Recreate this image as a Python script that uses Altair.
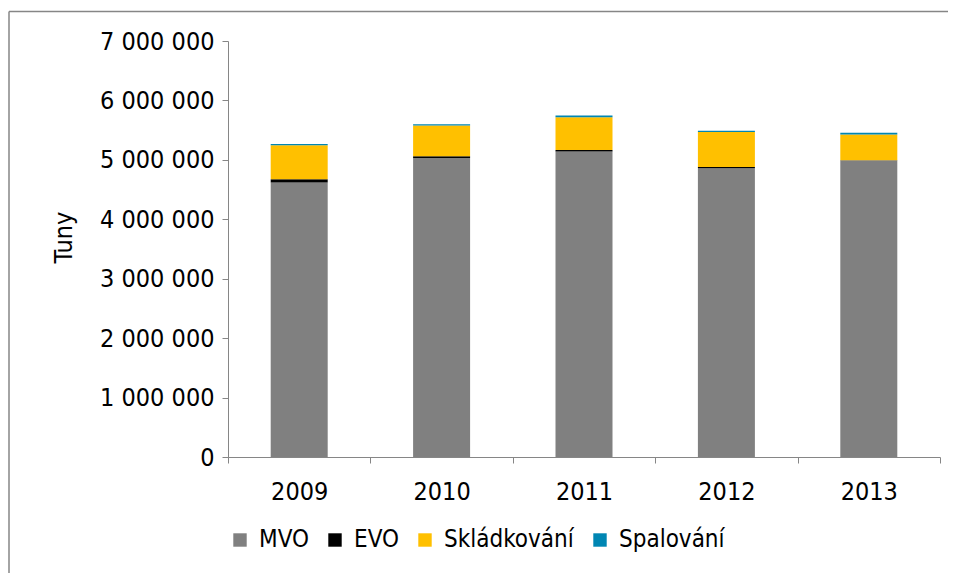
import altair as alt
import pandas as pd

years = ["2009", "2010", "2011", "2012", "2013"]
series = ["MVO", "EVO", "Skládkování", "Spalování"]
colors = ["#808080", "#000000", "#FFC000", "#0086B3"]
mvo = [4620000, 5030000, 5140000, 4860000, 4990000]
evo = [55000, 30000, 25000, 20000, 5000]
skladkovani = [570000, 520000, 550000, 590000, 430000]
spalovani = [20000, 20000, 30000, 20000, 30000]
y_ticks = [0, 1000000, 2000000, 3000000, 4000000, 5000000, 6000000, 7000000]

rows = []
for i, y in enumerate(years):
    for k, (name, vals) in enumerate(zip(series, [mvo, evo, skladkovani, spalovani])):
        rows.append({"rok": y, "serie": name, "hodnota": vals[i], "poradi": k})
df = pd.DataFrame(rows)

FONT = "DejaVu Sans Condensed, DejaVu Sans"
GREY = "#868686"

bars = alt.Chart(df).mark_bar(size=57).encode(
    x=alt.X("rok:N", sort=years,
            scale=alt.Scale(paddingInner=0, paddingOuter=0),
            axis=alt.Axis(title=None, labelAngle=0, tickBand="extent",
                          tickSize=6, labelPadding=16, domainColor=GREY,
                          tickColor=GREY, labelFontSize=25, labelFont=FONT,
                          labelColor="#000000", grid=False)),
    y=alt.Y("sum(hodnota):Q", stack="zero",
            scale=alt.Scale(domain=[0, 7000000], nice=False),
            axis=alt.Axis(title="Tuny", values=y_ticks, tickSize=6,
                          labelPadding=8, domainColor=GREY, tickColor=GREY,
                          labelFontSize=25, labelFont=FONT, labelColor="#000000",
                          labelExpr="replace(replace(format(datum.value, ','), ',', ' '), ',', ' ')",
                          grid=False, titleFontSize=25, titleFont=FONT,
                          titleFontWeight="normal", titleColor="#000000",
                          titleX=-165, titleY=196, titleAngle=-90,
                          titleAlign="center", titleBaseline="middle")),
    color=alt.Color("serie:N",
                    scale=alt.Scale(domain=series, range=colors),
                    legend=alt.Legend(title=None, orient="none", direction="horizontal",
                                      legendX=0, legendY=487, symbolType="square",
                                      symbolSize=180, symbolStrokeWidth=0,
                                      labelFontSize=24, labelFont=FONT,
                                      labelColor="#000000", labelOffset=7,
                                      columnPadding=14)),
    order=alt.Order("poradi:Q", sort="ascending"),
)

one = pd.DataFrame({"a": [0]})
frame_top = alt.Chart(one).mark_rule(stroke=GREY, strokeWidth=1.5, clip=False).encode(
    x=alt.value(-219), x2=alt.value(720), y=alt.value(-29.5),
)
frame_left = alt.Chart(one).mark_rule(stroke=GREY, strokeWidth=1.5, clip=False).encode(
    x=alt.value(-219), y=alt.value(-29.5), y2=alt.value(532),
)

chart = alt.layer(frame_top, frame_left, bars).properties(
    width=712, height=416,
    autosize=alt.AutoSizeParams(type="none"),
    padding={"left": 220, "top": 33, "right": 8, "bottom": 116},
).configure_view(stroke=None)

chart.save("out.html", embed_options={"renderer": "svg", "actions": False})
